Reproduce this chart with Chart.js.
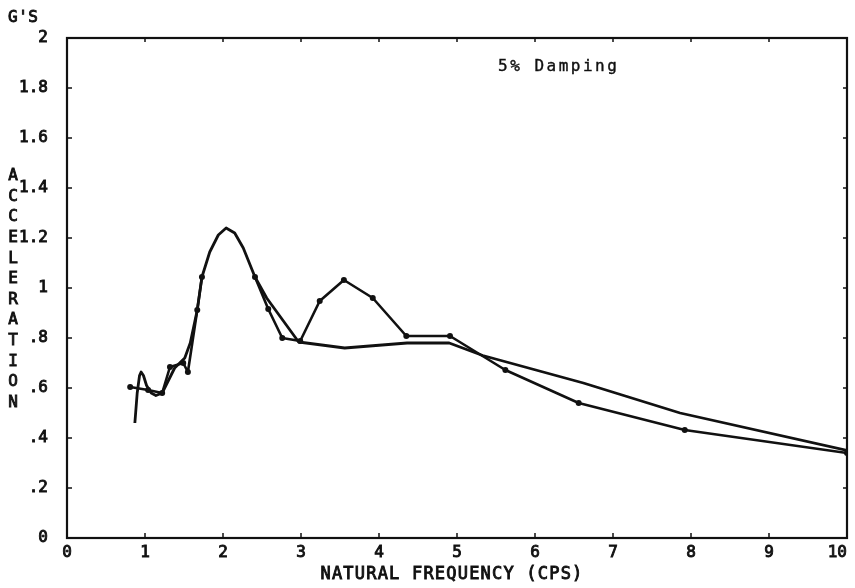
<!DOCTYPE html>
<html>
<head>
<meta charset="utf-8">
<script src="https://cdn.jsdelivr.net/npm/chart.js@4/dist/chart.umd.min.js"></script>
<style>
  html, body { margin: 0; background: #fff; }
</style>
</head>
<body>
<canvas id="chart" width="855" height="588"></canvas>
<script>
// smooth curve (no markers)
const smoothX = [0.87, 0.90, 0.93, 0.95, 0.98, 1.02, 1.08, 1.14, 1.22, 1.38, 1.51, 1.58, 1.67, 1.73, 1.83, 1.94, 2.04, 2.15, 2.26, 2.41, 2.56, 2.97, 3.56, 4.36, 4.90, 5.33, 6.62, 7.86, 10.0];
const smoothY = [0.46, 0.58, 0.65, 0.664, 0.65, 0.61, 0.58, 0.57, 0.58, 0.68, 0.72, 0.78, 0.912, 1.044, 1.144, 1.212, 1.24, 1.22, 1.16, 1.044, 0.96, 0.784, 0.76, 0.78, 0.78, 0.73, 0.62, 0.50, 0.35];

// measured curve (dots); null where it runs under the smooth peak
const measuredX = [0.81, 1.04, 1.22, 1.32, 1.49, 1.55, 1.67, 1.73, 2.0, 2.41, 2.58, 2.76, 2.99, 3.24, 3.55, 3.92, 4.35, 4.91, 5.62, 6.56, 7.92, 10.0];
const measuredY = [0.604, 0.592, 0.58, 0.684, 0.70, 0.664, 0.912, 1.044, null, 1.044, 0.916, 0.80, 0.788, 0.948, 1.032, 0.96, 0.808, 0.808, 0.672, 0.54, 0.432, 0.34];

const yTickLabels = ['0', '.2', '.4', '.6', '.8', '1', '1.2', '1.4', '1.6', '1.8', '2'];
const xTickLabels = ['0', '1', '2', '3', '4', '5', '6', '7', '8', '9', '10'];

const ink = '#111';
const mono = '"DejaVu Sans Mono", monospace';

const toPoints = (xs, ys) => xs.map((x, i) => ({ x: x, y: ys[i] }));

function boldText(ctx, txt, x, y) {
  ctx.fillText(txt, x, y);
  ctx.strokeText(txt, x, y);
}

// frame, inward ticks and the extra texts
const plotDecor = {
  id: 'plotDecor',
  afterDraw(chart) {
    const ctx = chart.ctx;
    const a = chart.chartArea;
    const sx = chart.scales.x, sy = chart.scales.y;
    ctx.save();
    ctx.strokeStyle = ink;
    ctx.lineWidth = 2.2;
    ctx.strokeRect(a.left, a.top, a.right - a.left, a.bottom - a.top);
    ctx.lineWidth = 1.5;
    ctx.beginPath();
    for (let i = 0; i < xTickLabels.length; i++) {
      const px = sx.getPixelForValue(i);
      ctx.moveTo(px, a.bottom); ctx.lineTo(px, a.bottom - 5);
      ctx.moveTo(px, a.top); ctx.lineTo(px, a.top + 4);
    }
    for (let i = 0; i < yTickLabels.length; i++) {
      const py = sy.getPixelForValue(i * 0.2);
      ctx.moveTo(a.left, py); ctx.lineTo(a.left + 5, py);
      ctx.moveTo(a.right, py); ctx.lineTo(a.right - 4, py);
    }
    ctx.stroke();

    ctx.fillStyle = ink;
    ctx.lineWidth = 0.9;
    ctx.textBaseline = 'middle';

    ctx.font = '16px ' + mono;
    ctx.textAlign = 'left';
    ctx.letterSpacing = '0.5px';
    boldText(ctx, "G'S", 8, 18);

    ctx.letterSpacing = '0px';
    ctx.textAlign = 'center';
    const word = 'ACCELERATION';
    for (let i = 0; i < word.length; i++) {
      boldText(ctx, word[i], 13, 176 + i * 20.6);
    }

    ctx.font = '17px ' + mono;
    ctx.letterSpacing = '1.2px';
    boldText(ctx, 'NATURAL FREQUENCY (CPS)', 452, 575);

    ctx.font = '16px ' + mono;
    ctx.letterSpacing = '2.5px';
    ctx.textAlign = 'left';
    ctx.lineWidth = 0.4;
    boldText(ctx, '5% Damping', 498, 67);
    ctx.restore();
  }
};

new Chart(document.getElementById('chart'), {
  type: 'line',
  data: {
    datasets: [
      {
        label: 'smooth',
        data: toPoints(smoothX, smoothY),
        borderColor: ink,
        borderWidth: 2.8,
        pointRadius: 0,
        tension: 0,
        borderJoinStyle: 'round',
        fill: false
      },
      {
        label: 'measured',
        data: toPoints(measuredX, measuredY),
        borderColor: ink,
        backgroundColor: ink,
        borderWidth: 2.6,
        pointRadius: 3,
        pointBorderWidth: 0,
        tension: 0,
        borderJoinStyle: 'round',
        spanGaps: false,
        fill: false
      }
    ]
  },
  options: {
    responsive: false,
    animation: false,
    devicePixelRatio: 1,
    layout: { padding: { left: 0, right: 8, top: 38, bottom: 0 } },
    plugins: {
      legend: { display: false },
      tooltip: { enabled: false }
    },
    scales: {
      x: {
        type: 'linear',
        min: 0,
        max: 10,
        afterFit(scale) {
          scale.height = 50;
          scale.paddingLeft = 0;
          scale.paddingRight = 0;
        },
        grid: { display: false },
        border: { display: false },
        ticks: {
          stepSize: 1,
          maxRotation: 0,
          padding: -3,
          color: ink,
          textStrokeColor: ink,
          textStrokeWidth: 0.9,
          font: { family: mono, size: 16 },
          // last label sits left of its tick in the reference
          callback: (v, i) => (i === xTickLabels.length - 1 ? xTickLabels[i] + '  ' : xTickLabels[i])
        }
      },
      y: {
        min: 0,
        max: 2,
        afterFit(scale) {
          scale.width = 67;
          scale.paddingTop = 0;
          scale.paddingBottom = 0;
        },
        grid: { display: false },
        border: { display: false },
        ticks: {
          stepSize: 0.2,
          padding: 11,
          color: ink,
          textStrokeColor: ink,
          textStrokeWidth: 0.9,
          font: { family: mono, size: 16 },
          callback: (v, i) => yTickLabels[i]
        }
      }
    }
  },
  plugins: [plotDecor]
});
</script>
</body>
</html>
